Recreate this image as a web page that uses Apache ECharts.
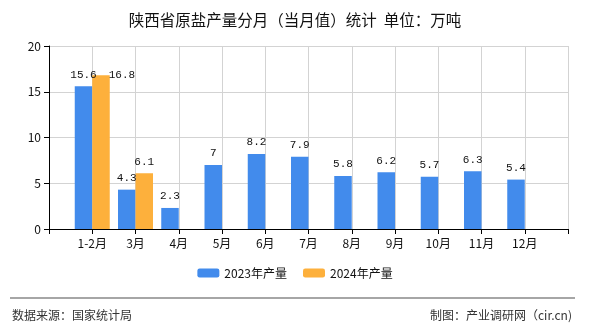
<!DOCTYPE html>
<html>
<head>
<meta charset="utf-8">
<script src="https://cdn.jsdelivr.net/npm/echarts@6/dist/echarts.min.js"></script>
<style>
html,body{margin:0;padding:0;background:#fff;}
#c{width:590px;height:330px;}
</style>
</head>
<body>
<div id="c"></div>
<script>
var months = ['1-2月','3月','4月','5月','6月','7月','8月','9月','10月','11月','12月'];
var values2023 = [15.6, 4.3, 2.3, 7, 8.2, 7.9, 5.8, 6.2, 5.7, 6.3, 5.4];
var values2024 = [16.8, 6.1];
var yTicks = [0, 5, 10, 15, 20];

var cats = [''].concat(months).concat(['']);
function pad(arr){
  var out = [null];
  for (var i = 0; i < months.length; i++) out.push(i < arr.length ? arr[i] : null);
  out.push(null);
  return out;
}
var d2023 = pad(values2023);
var d2024 = pad(values2024).map(function(v, i){
  if (i === 1 && v != null) {
    return {value: v, label: {position: ['100%', 0], align: 'left', verticalAlign: 'middle', offset:[-1,0]}};
  }
  return v;
});

var CJK = '"Noto Sans CJK SC", "Noto Sans", sans-serif';
var MONO = '"Liberation Mono", "DejaVu Sans Mono", monospace';

var chart = echarts.init(document.getElementById('c'), null, {renderer:'canvas'});
chart.setOption({
  animation: false,
  backgroundColor: '#fff',
  title: {
    text: '陕西省原盐产量分月（当月值）统计  单位：万吨',
    left: 'center',
    top: 7,
    textStyle: {fontFamily: CJK, fontSize: 15.5, fontWeight: 'normal', color: '#111'}
  },
  legend: {
    bottom: 46,
    left: 'center',
    itemWidth: 22,
    itemHeight: 9,
    itemGap: 16,
    textStyle: {fontFamily: CJK, fontSize: 12, color: '#111'},
    data: ['2023年产量', '2024年产量']
  },
  grid: {left: 49, right: 22, top: 46, bottom: 101, containLabel: false},
  xAxis: {
    type: 'category',
    data: cats,
    boundaryGap: false,
    axisLine: {lineStyle: {color: '#000', width: 1}},
    axisTick: {show: true, length: 5, lineStyle: {color: '#000'}},
    axisLabel: {interval: 0, margin: 8, fontFamily: CJK, fontSize: 12, color: '#111'},
    splitLine: {show: true, lineStyle: {color: '#d3d3d3'}}
  },
  yAxis: {
    type: 'value',
    min: yTicks[0],
    max: yTicks[yTicks.length - 1],
    interval: 5,
    axisLine: {show: true, lineStyle: {color: '#000', width: 1}},
    axisTick: {show: true, length: 5, lineStyle: {color: '#000'}},
    axisLabel: {margin: 8, fontFamily: CJK, fontSize: 12, color: '#111'},
    splitLine: {show: true, lineStyle: {color: '#d3d3d3'}}
  },
  series: [
    {
      name: '2023年产量',
      type: 'bar',
      data: d2023,
      barWidth: 17.5,
      barGap: '0%',
      itemStyle: {color: '#428BEC'},
      label: {show: true, position: 'top', distance: 6, fontFamily: MONO, fontSize: 11, color: '#111'}
    },
    {
      name: '2024年产量',
      type: 'bar',
      data: d2024,
      barWidth: 17.5,
      barGap: '0%',
      itemStyle: {color: '#FDB03C'},
      label: {show: true, position: 'top', distance: 6, fontFamily: MONO, fontSize: 11, color: '#111'}
    }
  ],
  graphic: [
    {type: 'line', shape: {x1: 10, y1: 298, x2: 575, y2: 298}, style: {stroke: '#888', lineWidth: 1.5}},
    {type: 'text', left: 12, top: 309, style: {text: '数据来源：国家统计局', font: '12px ' + CJK, fill: '#333'}},
    {type: 'text', right: 18, top: 309, style: {text: '制图：产业调研网（cir.cn)', font: '12px ' + CJK, fill: '#333'}}
  ]
});
</script>
</body>
</html>
